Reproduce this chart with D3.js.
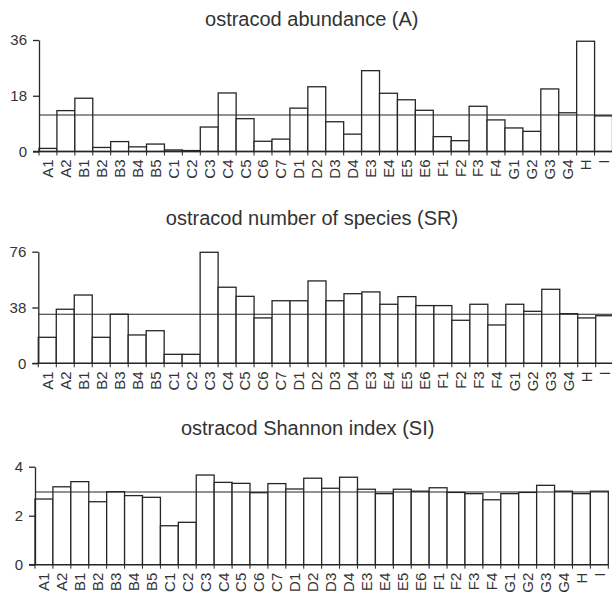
<!DOCTYPE html>
<html>
<head>
<meta charset="utf-8">
<script src="https://cdn.jsdelivr.net/npm/d3@7"></script>
<style>
  body { margin: 0; background: #fff; }
  svg text { font-family: "Liberation Sans", Arial, sans-serif; fill: #333; }
</style>
</head>
<body>
<div id="chart"></div>
<script>
// sampling sites along the x axis
const sites = ["A1", "A2", "B1", "B2", "B3", "B4", "B5", "C1", "C2", "C3", "C4", "C5", "C6", "C7",
    "D1", "D2", "D3", "D4", "E3", "E4", "E5", "E6", "F1", "F2", "F3", "F4", "G1", "G2", "G3", "G4", "H", "I"];

// ostracod abundance (A)
const abundance = [1.0, 13.2, 17.2, 1.3, 3.2, 1.5, 2.4, 0.5, 0.3, 7.9, 18.9, 10.6, 3.3, 4.0,
    14.0, 20.9, 9.6, 5.6, 26.1, 18.8, 16.7, 13.3, 4.8, 3.5, 14.6, 10.2, 7.6, 6.5, 20.2, 12.5, 35.6, 11.5];
const abundanceTicks = [0, 18, 36];
const abundanceRef = 11.8;

// ostracod number of species (SR)
const richness = [17.7, 36.8, 46.5, 17.7, 33.4, 19.3, 22.2, 6.1, 6.1, 75.6, 51.8, 45.6, 30.9, 42.6,
    42.6, 56.1, 42.6, 47.4, 48.6, 40.2, 45.4, 39.3, 39.3, 29.3, 40.2, 26.1, 40.2, 35.4, 50.4, 33.8, 30.9, 32.4];
const richnessTicks = [0, 38, 76];
const richnessRef = 33.4;

// ostracod Shannon index (SI)
const shannon = [2.68, 3.18, 3.39, 2.57, 2.98, 2.82, 2.75, 1.59, 1.73, 3.66, 3.36, 3.32, 2.94, 3.31,
    3.09, 3.53, 3.12, 3.57, 3.08, 2.90, 3.08, 3.00, 3.14, 2.95, 2.90, 2.65, 2.90, 2.95, 3.24, 3.00, 2.90, 3.00];
const shannonTicks = [0, 2, 4];
const shannonRef = 2.97;

const svg = d3.select("#chart").append("svg")
    .attr("width", 612)
    .attr("height", 600);

const ink = "#262626";

function drawPanel(opts) {
    const { title, values, ticks, ref, left, right, top, bottom, titleY } = opts;

    const x = d3.scaleBand().domain(sites).range([left, right]).padding(0);
    const y = d3.scaleLinear().domain([0, d3.max(ticks)]).range([bottom, top]);

    const g = svg.append("g");

    // title
    g.append("text")
        .attr("x", (left + right) / 2 - 14)
        .attr("y", titleY)
        .attr("text-anchor", "middle")
        .style("font-size", "20px")
        .text(title);

    // bars
    g.selectAll(".bar")
        .data(values)
        .enter().append("rect")
        .attr("class", "bar")
        .attr("x", (d, i) => x(sites[i]))
        .attr("width", x.bandwidth())
        .attr("y", d => y(d))
        .attr("height", d => bottom - y(d))
        .attr("fill", "#fff")
        .attr("stroke", ink)
        .attr("stroke-width", 1.3);

    // reference line
    g.append("line")
        .attr("x1", left)
        .attr("x2", right)
        .attr("y1", y(ref))
        .attr("y2", y(ref))
        .attr("stroke", ink)
        .attr("stroke-width", 1.1);

    // y axis
    const yAxis = g.append("g")
        .attr("transform", `translate(${left},0)`)
        .call(d3.axisLeft(y).tickValues(ticks).tickFormat(d3.format("d"))
            .tickSize(6).tickSizeOuter(0).tickPadding(6));
    yAxis.selectAll("path, line").attr("stroke", ink).attr("stroke-width", 1.3);
    yAxis.selectAll("text").style("font-size", "15px").attr("fill", "#333");

    // x axis: baseline, ticks between categories, rotated labels
    const xAxis = g.append("g")
        .attr("transform", `translate(0,${bottom})`)
        .call(d3.axisBottom(x).tickSize(0).tickPadding(0));
    xAxis.select(".domain").remove();
    xAxis.selectAll("text")
        .attr("transform", "rotate(-90)")
        .attr("x", -8)
        .attr("y", 0)
        .attr("dy", "0.36em")
        .style("text-anchor", "end")
        .style("font-size", "15px")
        .attr("fill", "#333");

    xAxis.append("line")
        .attr("x1", left - 6)
        .attr("x2", right)
        .attr("stroke", ink)
        .attr("stroke-width", 1.3);

    xAxis.selectAll(".sep")
        .data(sites.concat([null]))
        .enter().append("line")
        .attr("class", "sep")
        .attr("x1", d => d === null ? right : x(d))
        .attr("x2", d => d === null ? right : x(d))
        .attr("y1", 0)
        .attr("y2", 4)
        .attr("stroke", ink)
        .attr("stroke-width", 1);
}

drawPanel({ title: "ostracod abundance (A)", values: abundance, ticks: abundanceTicks, ref: abundanceRef,
    left: 39, right: 612.5, top: 40, bottom: 151.5, titleY: 26 });
drawPanel({ title: "ostracod number of species (SR)", values: richness, ticks: richnessTicks, ref: richnessRef,
    left: 38.3, right: 613.7, top: 251.7, bottom: 363.3, titleY: 225 });
drawPanel({ title: "ostracod Shannon index (SI)", values: shannon, ticks: shannonTicks, ref: shannonRef,
    left: 35, right: 608.3, top: 466.7, bottom: 564.7, titleY: 435 });
</script>
</body>
</html>
